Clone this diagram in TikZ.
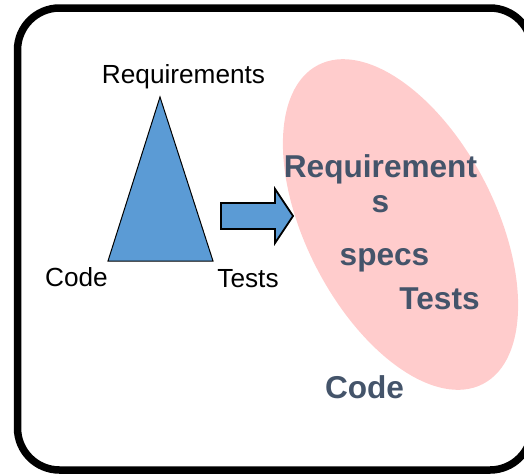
\documentclass[tikz,border=0pt]{standalone}
\usepackage{fontspec}
\setmainfont{Liberation Sans}
\usetikzlibrary{shapes.geometric,shapes.arrows}
\definecolor{triblue}{HTML}{5B9BD5}
\definecolor{ellpink}{HTML}{FFCCCC}
\definecolor{slate}{HTML}{44546A}
\tikzset{
  plainlbl/.style={inner sep=0pt, font=\fontsize{26.2}{30}\selectfont, text=black},
  boldlbl/.style={inner sep=0pt, font=\fontsize{31.6}{35}\selectfont\bfseries, text=slate},
}
\begin{document}
\begin{tikzpicture}[x=1pt,y=-1pt]
\useasboundingbox (0,0) rectangle (524,474);
% frame
\draw[line width=7.5pt, rounded corners=42pt] (17.5,8) rectangle (532,470);
% ellipse
\node[ellipse, fill=ellpink, minimum width=359pt, minimum height=189pt, inner sep=0pt, rotate=-62.7] (ell) at (400.5,224.5) {};
% triangle
\coordinate (apex) at (160,97);
\coordinate (bl) at (108,261);
\coordinate (br) at (213,261);
\draw[fill=triblue, line width=1pt, line join=miter] (apex) -- (bl) -- (br) -- cycle;
% block arrow
\draw[fill=triblue, line width=1.8pt] (221,203) -- (275,203) -- (275,189) -- (293,216) -- (275,243) -- (275,229) -- (221,229) -- cycle;
% plain labels
\node[plainlbl, anchor=base] (lreq) at (183.5,83) {Requirements};
\node[plainlbl, anchor=base] (lcode) at (76.5,286) {Code};
\node[plainlbl, anchor=base] (ltests) at (248,287) {Tests};
% bold labels
\node[boldlbl, anchor=base] (breq) at (380.5,177) {Requirement};
\node[boldlbl, anchor=base] (bs) at (380.5,212) {s};
\node[boldlbl, anchor=base] (bspecs) at (384.5,265) {specs};
\node[boldlbl, anchor=base] (btests) at (439.5,309) {Tests};
\node[boldlbl, anchor=base] (bcode) at (364.5,398) {Code};
\end{tikzpicture}
\end{document}
